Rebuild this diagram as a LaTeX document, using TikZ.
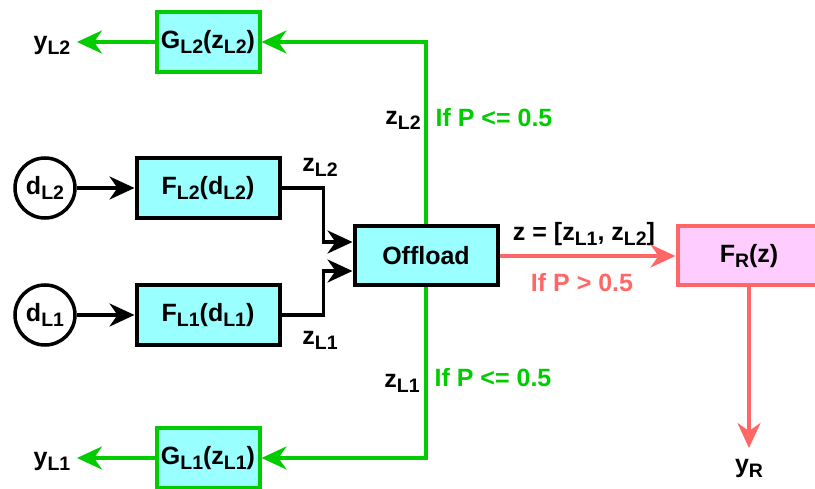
\documentclass[tikz,border=0pt]{standalone}
\usepackage{fontspec}
\setmainfont{Liberation Sans}
\usetikzlibrary{arrows.meta}
\definecolor{boxcyan}{HTML}{99FFFF}
\definecolor{lgreen}{HTML}{00CC00}
\definecolor{rred}{HTML}{FF6666}
\definecolor{rpink}{HTML}{FFCCFF}
\newcommand{\lsub}[1]{\raisebox{-5pt}{\fontsize{19.5}{20}\selectfont #1}}
\begin{document}
\begin{tikzpicture}[x=1pt,y=-1pt,
  every node/.style={font=\fontsize{25}{28}\selectfont\bfseries,inner sep=0pt},
  fbox/.style={draw,line width=4pt,fill=boxcyan,rectangle,minimum width=143pt,minimum height=60pt},
  gbox/.style={fbox,draw=lgreen,minimum width=103pt},
  rbox/.style={fbox,draw=rred,fill=rpink,minimum height=59pt},
  src/.style={draw,circle,line width=3.5pt,minimum size=60pt},
  blkline/.style={line width=3.5pt,-{Stealth[length=25pt,width=23pt,inset=8pt]}},
  grnline/.style={blkline,draw=lgreen},
  redline/.style={blkline,draw=rred}]
\useasboundingbox (0,0) rectangle (815,489);
% blocks
\node[src] (dL2) at (45,188) {d\lsub{L2}};
\node[fbox] (FL2) at (208,188) {F\lsub{L2}(d\lsub{L2})};
\node[src] (dL1) at (45,315) {d\lsub{L1}};
\node[fbox] (FL1) at (208,315) {F\lsub{L1}(d\lsub{L1})};
\node[fbox,minimum height=59pt] (off) at (426,256) {Offload};
\node[gbox] (GL2) at (208,42) {G\lsub{L2}(z\lsub{L2})};
\node[gbox] (GL1) at (208,458) {G\lsub{L1}(z\lsub{L1})};
\node[rbox] (FR) at (749,256) {F\lsub{R}(z)};
% outputs
\node (yL2) at (52,45) {y\lsub{L2}};
\node (yL1) at (52,461) {y\lsub{L1}};
\node (yR) at (749,468) {y\lsub{R}};
\coordinate (yL2end) at (77,42);
\coordinate (yL1end) at (77,458);
\coordinate (yRend) at (749,448);
% labels
\node (zL2in) at (320,167) {z\lsub{L2}};
\node (zL1in) at (320,340) {z\lsub{L1}};
\node (zL2up) at (403,120) {z\lsub{L2}};
\node[text=lgreen] (condup) at (494,118) {If P <= 0.5};
\node (zL1dn) at (402,383) {z\lsub{L1}};
\node[text=lgreen] (conddn) at (493,378) {If P <= 0.5};
\node (zvec) at (584,234) {z = [z\lsub{L1}, z\lsub{L2}]};
\node[text=rred] (condr) at (582,283) {If P > 0.5};
% connectors
\draw[blkline] (dL2) -- (FL2);
\draw[blkline] (dL1) -- (FL1);
\draw[blkline] (FL2.east) -- ++(42,0) |- ([yshift=14pt]off.west);
\draw[blkline] (FL1.east) -- ++(42,0) |- ([yshift=-15pt]off.west);
\draw[grnline] (off.north) |- (GL2.east);
\draw[grnline] (off.south) |- (GL1.east);
\draw[grnline] (GL2.west) -- (yL2end);
\draw[grnline] (GL1.west) -- (yL1end);
\draw[redline] (off.east) -- (FR.west);
\draw[redline] (FR.south) -- (yRend);
\end{tikzpicture}
\end{document}
